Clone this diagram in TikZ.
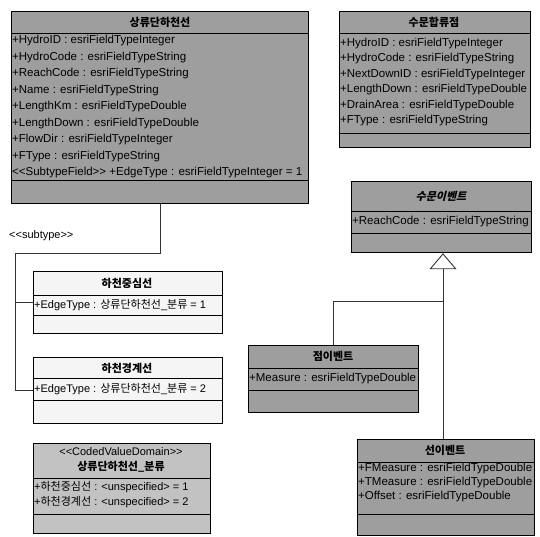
\documentclass[tikz,border=0pt]{standalone}
\usepackage{fontspec}
\setmainfont{Liberation Sans}[Ligatures=TeXOff]
\newfontfamily\kr{Noto Sans CJK KR}
\newfontfamily\kri{Noto Sans CJK KR}[FakeSlant=0.25]
\usetikzlibrary{arrows.meta}

% one compartment line across a class box
\newcommand{\compline}[2]{\draw[sep] (#1.west |- 0,#2) -- (#1.east |- 0,#2);}
% stereotype in double angle brackets
\newcommand{\stereo}[1]{<\kern0pt<#1>\kern0pt>}

\begin{document}
\begin{tikzpicture}[x=1pt,y=-1pt,
    classbox/.style={draw, line width=1.2pt, anchor=north west, inner sep=0pt},
    dark/.style={fill=black!38},
    light/.style={fill=black!4},
    mid/.style={fill=black!24},
    sep/.style={line width=1pt},
    title/.style={inner sep=0pt, font=\kr\bfseries\fontsize{11}{15}\selectfont},
    attrs/.style={anchor=west, align=left, inner sep=0pt, font=\fontsize{11.5}{16.5}\selectfont},
    conn/.style={line width=0.7pt, black!80}]
    \useasboundingbox (0,0) rectangle (540,536);

    % class boxes
    \node[classbox, dark, minimum width=297pt, minimum height=192pt] (reach) at (11,11) {};
    \node[classbox, dark, minimum width=191pt, minimum height=136pt] (junction) at (339,11) {};
    \node[classbox, dark, minimum width=180pt, minimum height=71pt] (event) at (351,181) {};
    \node[classbox, light, minimum width=189pt, minimum height=62pt] (center) at (33,271) {};
    \node[classbox, light, minimum width=189pt, minimum height=66pt] (bank) at (33,357) {};
    \node[classbox, mid, minimum width=177pt, minimum height=90pt] (domain) at (33,443) {};
    \node[classbox, dark, minimum width=170pt, minimum height=67pt] (pointev) at (248,345) {};
    \node[classbox, dark, minimum width=177pt, minimum height=96pt] (lineev) at (357,439) {};

    \compline{reach}{33} \compline{reach}{180}
    \compline{junction}{33} \compline{junction}{133}
    \compline{event}{211} \compline{event}{233}
    \compline{center}{295} \compline{center}{315}
    \compline{bank}{378} \compline{bank}{400}
    \compline{domain}{478} \compline{domain}{514}
    \compline{pointev}{368} \compline{pointev}{390}
    \compline{lineev}{462} \compline{lineev}{514}

    % titles
    \node[title] (reach-t) at (160,22) {상류단하천선};
    \node[title] (junction-t) at (434,22) {수문합류점};
    \node[title, font=\kri\bfseries\fontsize{11}{15}\selectfont] (event-t) at (441,196) {수문이벤트};
    \node[title] (center-t) at (127,283) {하천중심선};
    \node[title] (bank-t) at (127,368) {하천경계선};
    \node[title, align=center, font=\fontsize{11}{15}\selectfont] (domain-t) at (121,460)
        {\stereo{CodedValueDomain}\\{\kr\bfseries 상류단하천선\_분류}};
    \node[title] (pointev-t) at (333,356) {점이벤트};
    \node[title] (lineev-t) at (445,450) {선이벤트};

    % attributes
    \node[attrs] (reach-a) at (12,107) {+HydroID : esriFieldTypeInteger\\
        +HydroCode : esriFieldTypeString\\
        +ReachCode : esriFieldTypeString\\
        +Name : esriFieldTypeString\\
        +LengthKm : esriFieldTypeDouble\\
        +LengthDown : esriFieldTypeDouble\\
        +FlowDir : esriFieldTypeInteger\\
        +FType : esriFieldTypeString\\
        \stereo{SubtypeField} +EdgeType : esriFieldTypeInteger = 1};
    \node[attrs, font=\fontsize{11.5}{15.4}\selectfont] (junction-a) at (340,82) {+HydroID : esriFieldTypeInteger\\
        +HydroCode : esriFieldTypeString\\
        +NextDownID : esriFieldTypeInteger\\
        +LengthDown : esriFieldTypeDouble\\
        +DrainArea : esriFieldTypeDouble\\
        +FType : esriFieldTypeString};
    \node[attrs] (event-a) at (352,222) {+ReachCode : esriFieldTypeString};
    \node[attrs, font=\fontsize{11}{15}\selectfont] (center-a) at (34,305) {+EdgeType : {\kr 상류단하천선}\_{\kr 분류} = 1};
    \node[attrs, font=\fontsize{11}{15}\selectfont] (bank-a) at (34,389) {+EdgeType : {\kr 상류단하천선}\_{\kr 분류} = 2};
    \node[attrs, font=\fontsize{11}{15}\selectfont] (domain-a) at (34,495) {+{\kr 하천중심선} : <unspecified> = 1\\
        +{\kr 하천경계선} : <unspecified> = 2};
    \node[attrs] (pointev-a) at (249,379) {+Measure : esriFieldTypeDouble};
    \node[attrs, font=\fontsize{11.5}{14}\selectfont] (lineev-a) at (358,483) {+FMeasure : esriFieldTypeDouble\\
        +TMeasure : esriFieldTypeDouble\\
        +Offset : esriFieldTypeDouble};

    % subtype links
    \node[anchor=west, inner sep=0pt, font=\fontsize{11}{13}\selectfont] (st-lbl) at (9,236) {\stereo{subtype}};
    \coordinate (st) at (15,253);
    \draw[conn] (reach.south) |- (st) |- (bank.west);
    \draw[conn] (st |- center.west) -- (center.west);

    % generalization
    \coordinate (gj) at (443,301);
    \draw[conn] (pointev.north) |- (gj);
    \draw[conn] (gj |- lineev.north) -- (gj);
    \draw[conn, -{Triangle[open, length=16pt, width=27pt, line width=0.9pt, fill=white]}] (gj) -- (gj |- event.south);
\end{tikzpicture}
\end{document}
